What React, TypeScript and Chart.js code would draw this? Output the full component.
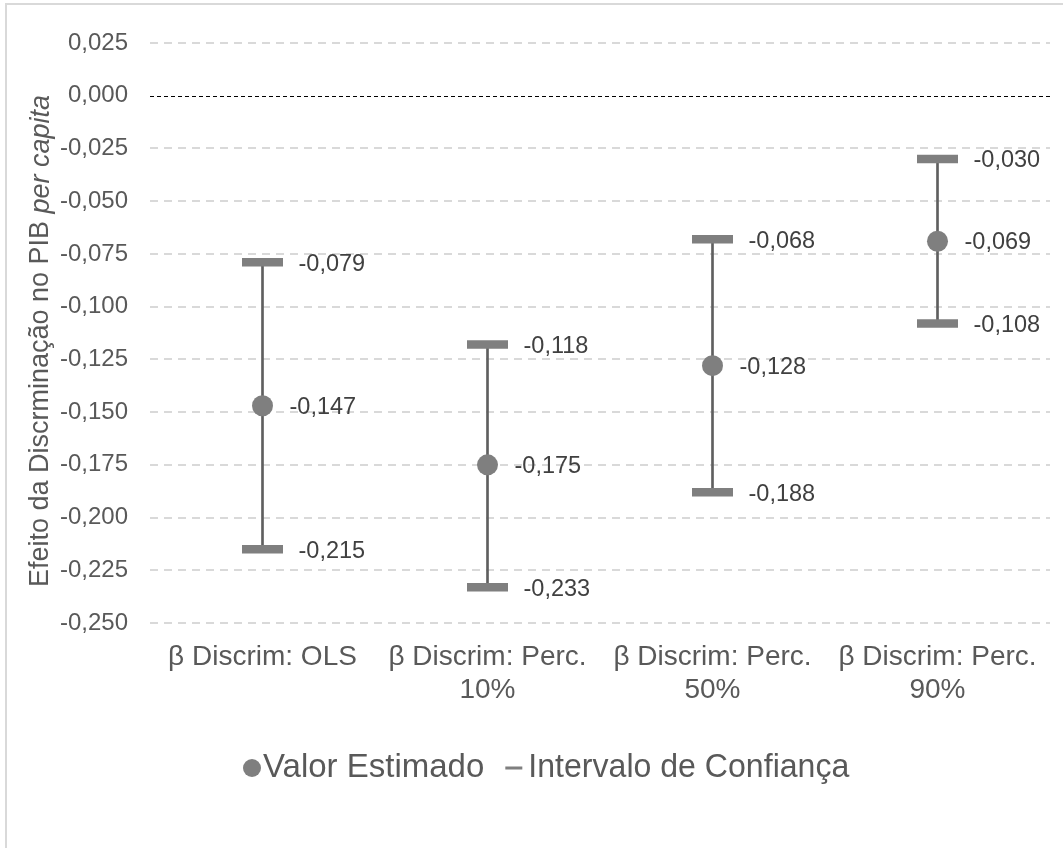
import React, { useEffect, useRef } from "react";
import { Chart, registerables } from "chart.js";

Chart.register(...registerables);

const categories: (string | string[])[] = [
  "β Discrim: OLS",
  ["β Discrim: Perc.", "10%"],
  ["β Discrim: Perc.", "50%"],
  ["β Discrim: Perc.", "90%"],
];
const estimates = [-0.147, -0.175, -0.128, -0.069];
const upperBounds = [-0.079, -0.118, -0.068, -0.03];
const lowerBounds = [-0.215, -0.233, -0.188, -0.108];
const yTicks = [0.025, 0, -0.025, -0.05, -0.075, -0.1, -0.125, -0.15, -0.175, -0.2, -0.225, -0.25];
const seriesNames = ["Valor Estimado", "Intervalo de Confiança"];
const axisTitleMain = "Efeito da Discrminação no PIB ";
const axisTitleItalic = "per capita";

const FONT = '"Liberation Sans", Arial, sans-serif';
const GRAY = "#7f7f7f";
const fmt = (v: number) => {
  const s = Math.abs(v).toFixed(3).replace(".", ",");
  return (v < -1e-9 ? "-" : "") + s;
};

const overlayPlugin = {
  id: "overlay",
  beforeDatasetsDraw(chart: any) {
    const { ctx, chartArea, scales } = chart;
    const y0 = scales.y.getPixelForValue(0);
    ctx.save();
    ctx.strokeStyle = "#000000";
    ctx.lineWidth = 1;
    ctx.setLineDash([4, 3]);
    ctx.beginPath();
    ctx.moveTo(chartArea.left, Math.round(y0) + 0.5);
    ctx.lineTo(chartArea.right, Math.round(y0) + 0.5);
    ctx.stroke();
    ctx.restore();
  },
  afterDatasetsDraw(chart: any) {
    const { ctx, scales } = chart;
    const xs = scales.x;
    const ys = scales.y;
    ctx.save();
    ctx.fillStyle = "#404040";
    ctx.font = `23.5px ${FONT}`;
    ctx.textAlign = "left";
    ctx.textBaseline = "middle";
    for (let i = 0; i < categories.length; i++) {
      const x = xs.getPixelForValue(i);
      ctx.fillText(fmt(upperBounds[i]), x + 36, ys.getPixelForValue(upperBounds[i]) + 2);
      ctx.fillText(fmt(lowerBounds[i]), x + 36, ys.getPixelForValue(lowerBounds[i]) + 2);
      ctx.fillText(fmt(estimates[i]), x + 27, ys.getPixelForValue(estimates[i]) + 1.5);
    }
    ctx.restore();

    // y-axis title
    ctx.save();
    ctx.fillStyle = "#595959";
    ctx.textBaseline = "middle";
    ctx.textAlign = "left";
    ctx.translate(41, 341);
    ctx.rotate(-Math.PI / 2);
    ctx.font = `27px ${FONT}`;
    const w1 = ctx.measureText(axisTitleMain).width;
    ctx.font = `italic 27px ${FONT}`;
    const w2 = ctx.measureText(axisTitleItalic).width;
    const start = -(w1 + w2) / 2;
    ctx.font = `27px ${FONT}`;
    ctx.fillText(axisTitleMain, start, 0);
    ctx.font = `italic 27px ${FONT}`;
    ctx.fillText(axisTitleItalic, start + w1, 0);
    ctx.restore();

    // legend
    ctx.save();
    const ly = 768;
    ctx.font = `33px ${FONT}`;
    ctx.textBaseline = "middle";
    ctx.textAlign = "left";
    ctx.fillStyle = GRAY;
    ctx.beginPath();
    ctx.arc(252, ly, 9, 0, Math.PI * 2);
    ctx.fill();
    ctx.fillStyle = "#595959";
    ctx.fillText(seriesNames[0], 263, ly);
    const w0 = ctx.measureText(seriesNames[0]).width;
    const dashX = 263 + w0 + 21;
    ctx.fillStyle = GRAY;
    ctx.fillRect(dashX, ly - 1.5, 17, 3);
    ctx.fillStyle = "#595959";
    ctx.fillText(seriesNames[1], dashX + 23, ly, 321);
    ctx.restore();
  },
};

export default function App() {
  const ref = useRef<HTMLCanvasElement | null>(null);

  useEffect(() => {
    if (!ref.current) return;
    const chart = new Chart(ref.current, {
      type: "bar",
      data: {
        labels: categories as any,
        datasets: [
          {
            type: "line",
            label: seriesNames[0],
            data: estimates,
            showLine: false,
            pointStyle: "circle",
            pointRadius: 10.5,
            pointBackgroundColor: GRAY,
            pointBorderColor: GRAY,
            pointBorderWidth: 0,
            backgroundColor: GRAY,
            borderColor: GRAY,
          } as any,
          {
            type: "line",
            label: seriesNames[1],
            data: upperBounds,
            showLine: false,
            pointStyle: "line",
            pointRadius: 20.5,
            pointBorderWidth: 8.5,
            pointBorderColor: GRAY,
            borderColor: GRAY,
            backgroundColor: GRAY,
          } as any,
          {
            type: "line",
            label: seriesNames[1] + " (inferior)",
            data: lowerBounds,
            showLine: false,
            pointStyle: "line",
            pointRadius: 20.5,
            pointBorderWidth: 8.5,
            pointBorderColor: GRAY,
            borderColor: GRAY,
            backgroundColor: GRAY,
          } as any,
          {
            type: "bar",
            label: "whisker",
            data: lowerBounds.map((lo, i) => [lo, upperBounds[i]]),
            backgroundColor: "#5f5f5f",
            borderWidth: 0,
            barThickness: 2,
          } as any,
        ],
      },
      options: {
        animation: false,
        responsive: false,
        events: [],
        layout: { autoPadding: false, padding: { left: 0, top: 43, right: 13, bottom: 117 } },
        scales: {
          x: {
            type: "category",
            offset: true,
            grid: { display: false, drawTicks: false },
            border: { display: false },
            ticks: {
              color: "#595959",
              font: { family: FONT, size: 28, lineHeight: 1.16 },
              padding: 18.5,
              maxRotation: 0,
              autoSkip: false,
            },
            afterFit(scale: any) {
              scale.height = 108;
              scale.paddingLeft = 0;
              scale.paddingRight = 0;
            },
          },
          y: {
            type: "linear",
            min: -0.25,
            max: 0.025,
            afterBuildTicks(scale: any) {
              scale.ticks = yTicks.map((v) => ({ value: v }));
            },
            afterFit(scale: any) {
              scale.width = 150;
            },
            grid: {
              drawTicks: false,
              lineWidth: 2,
              color: (c: any) => (c.tick && Math.abs(c.tick.value) < 1e-9 ? "rgba(0,0,0,0)" : "#d9d9d9"),
            },
            border: { display: false, dash: [8, 6] },
            ticks: {
              color: "#595959",
              font: { family: FONT, size: 24 },
              padding: 22,
              callback: (v: any) => fmt(Number(v)),
            },
          },
        },
        plugins: {
          tooltip: { enabled: false },
          title: { display: false },
          legend: { display: false },
        },
      } as any,
      plugins: [overlayPlugin],
    });
    return () => chart.destroy();
  }, []);

  return (
    <div style={{ position: "absolute", left: 0, top: 0, width: 1063, height: 848, overflow: "hidden", background: "#fff" }}>
      <div
        style={{
          position: "absolute",
          left: 5,
          top: 3,
          width: 1200,
          height: 1000,
          border: "2px solid #d9d9d9",
          boxSizing: "border-box",
        }}
      />
      <canvas ref={ref} width={1063} height={848} style={{ position: "absolute", left: 0, top: 0 }} />
    </div>
  );
}
